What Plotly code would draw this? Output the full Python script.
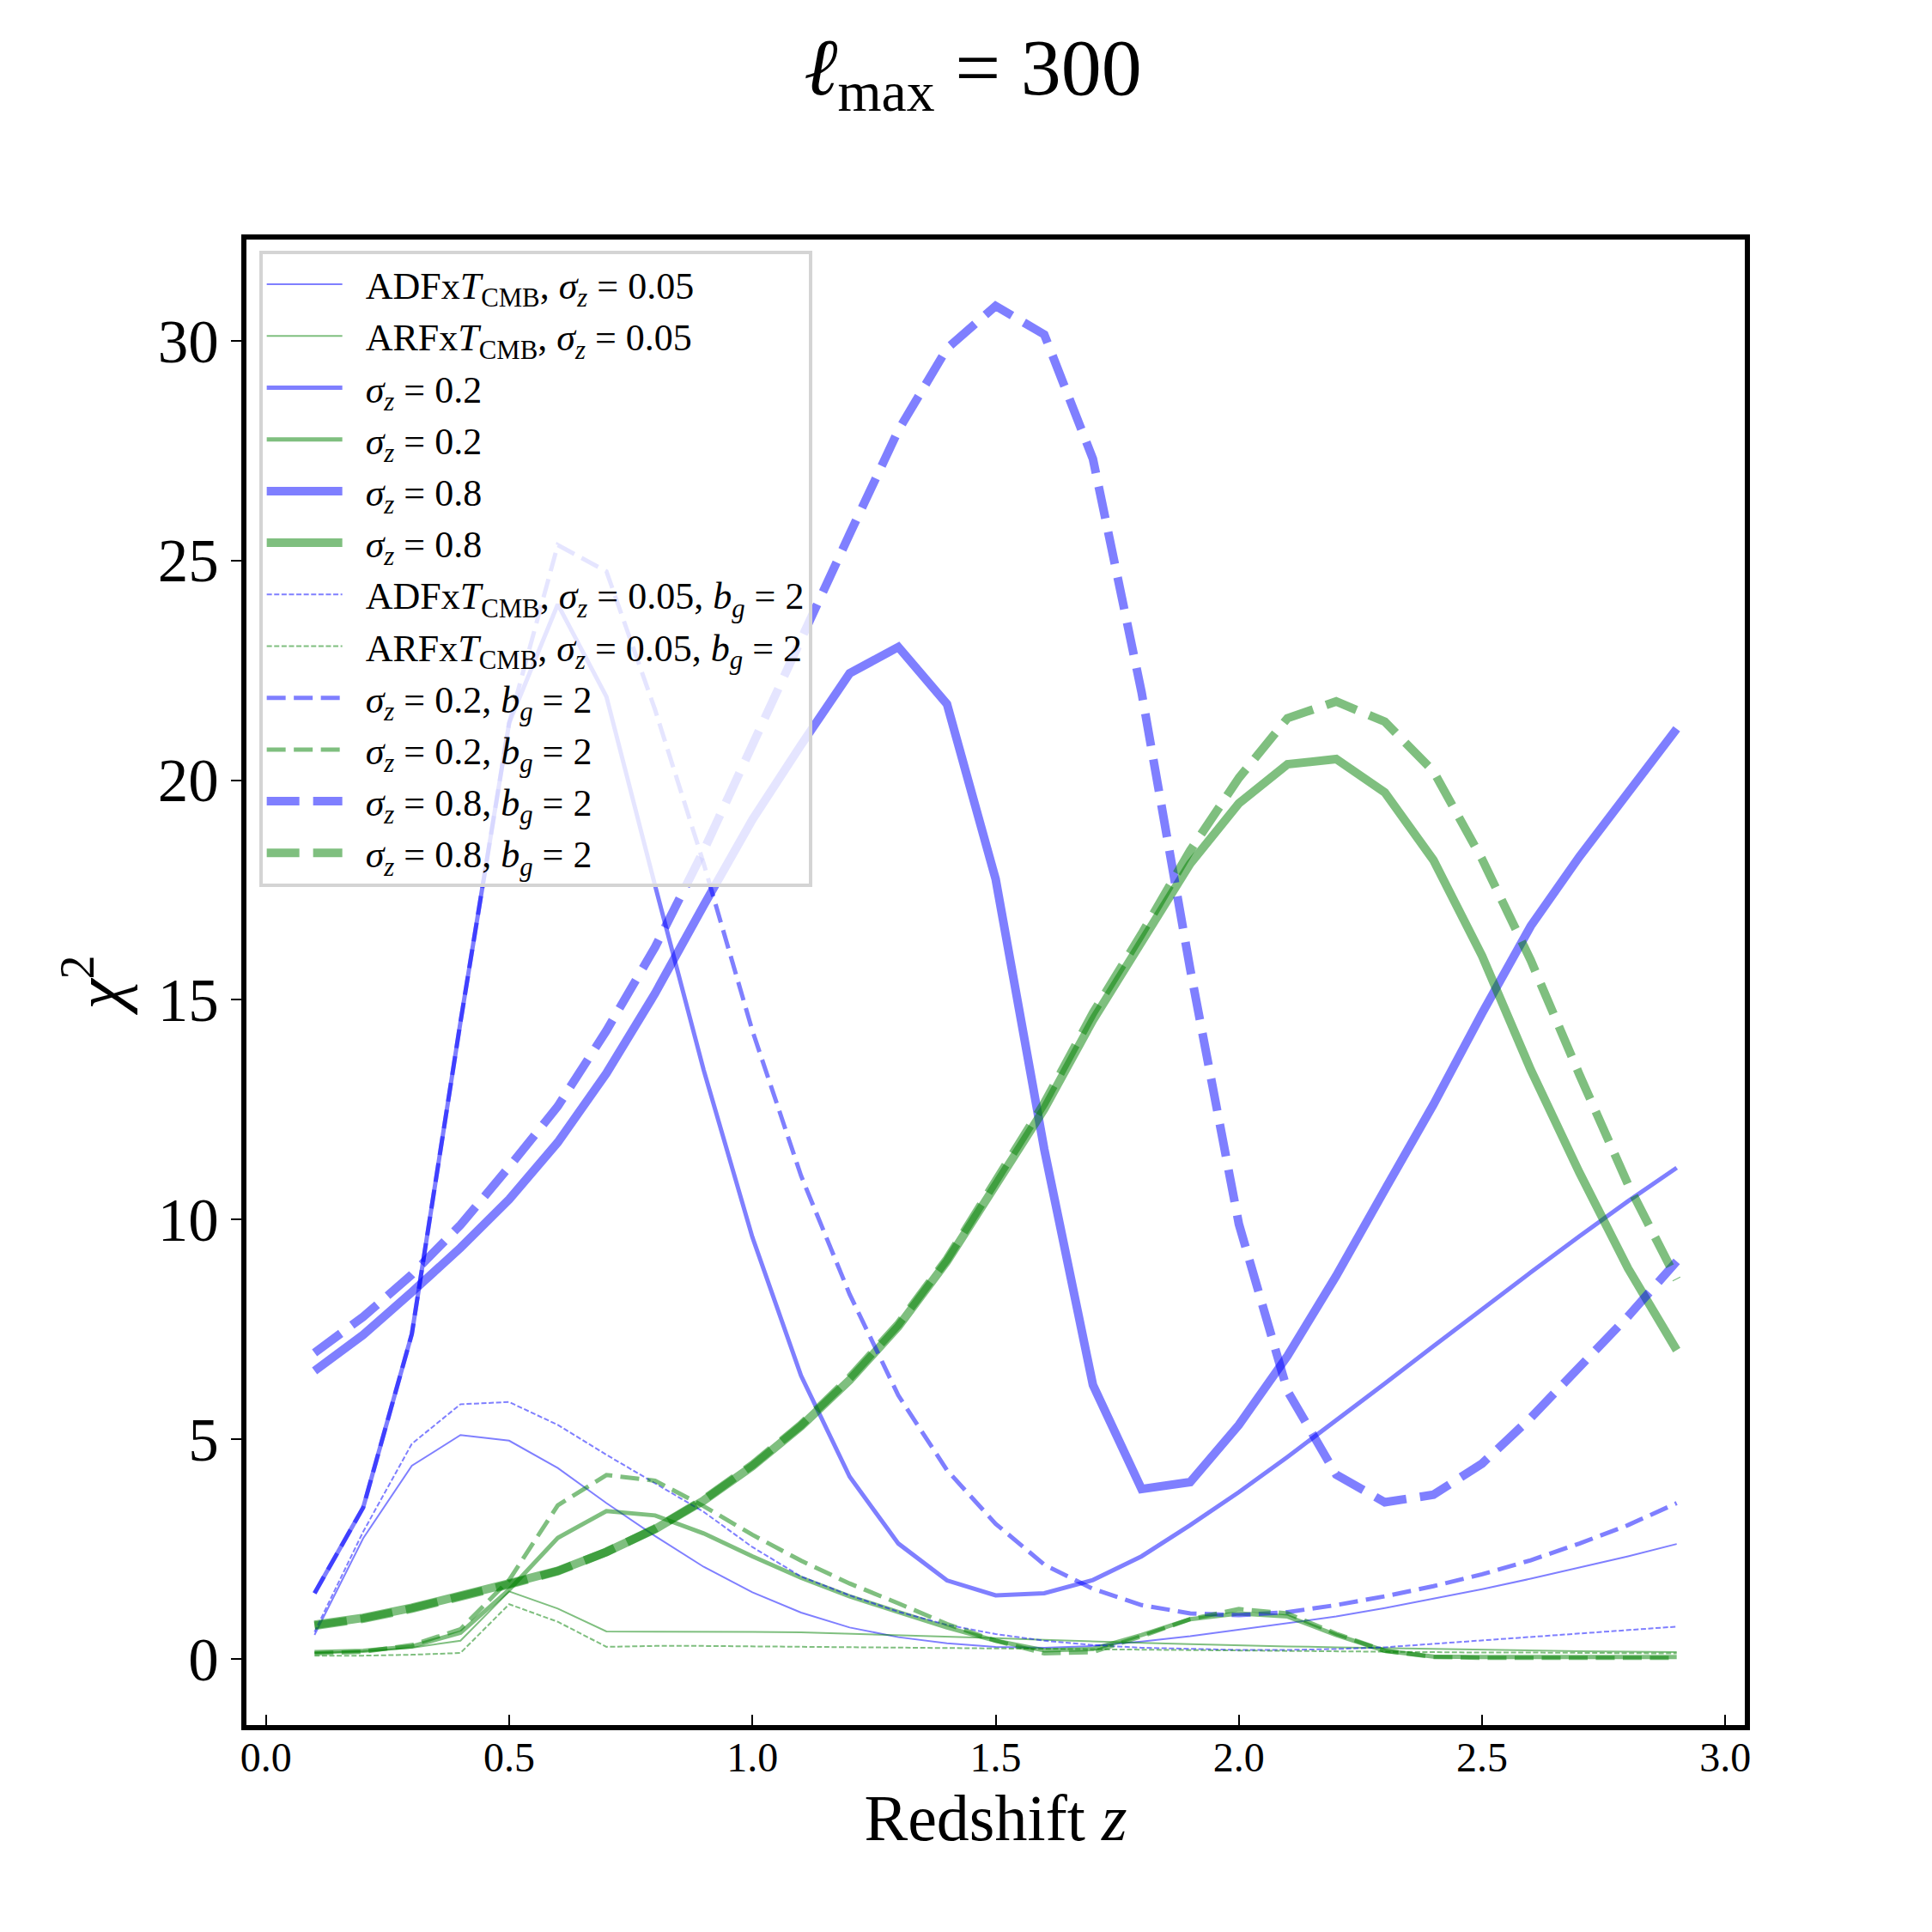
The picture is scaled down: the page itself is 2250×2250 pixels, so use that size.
import plotly.graph_objects as go

# Redshift bins
z = [0.1, 0.2, 0.3, 0.4, 0.5, 0.6, 0.7, 0.8, 0.9, 1.0,
     1.1, 1.2, 1.3, 1.4, 1.5, 1.6, 1.7, 1.8, 1.9, 2.0,
     2.1, 2.2, 2.3, 2.4, 2.5, 2.6, 2.7, 2.8, 2.9]

# chi^2 values
adf_005 = [0.55, 2.75, 4.4, 5.1, 4.97, 4.35, 3.55, 2.8, 2.1, 1.52,
           1.06, 0.72, 0.5, 0.36, 0.28, 0.26, 0.3, 0.4, 0.52, 0.67,
           0.81, 0.97, 1.16, 1.37, 1.59, 1.83, 2.08, 2.34, 2.62]
arf_005 = [0.14, 0.18, 0.26, 0.42, 1.54, 1.15, 0.63, 0.63, 0.63, 0.62,
           0.61, 0.58, 0.55, 0.52, 0.48, 0.44, 0.4, 0.37, 0.34, 0.31,
           0.29, 0.27, 0.25, 0.23, 0.21, 0.2, 0.18, 0.17, 0.16]
adf_02 = [1.5, 3.45, 7.4, 14.5, 21.3, 24.0, 21.9, 17.6, 13.4, 9.6,
          6.45, 4.15, 2.63, 1.79, 1.45, 1.5, 1.8, 2.34, 3.05, 3.8,
          4.6, 5.42, 6.27, 7.12, 7.97, 8.8, 9.62, 10.42, 11.18]
arf_02 = [0.16, 0.19, 0.29, 0.6, 1.58, 2.76, 3.37, 3.27, 2.86, 2.34,
          1.85, 1.43, 1.07, 0.72, 0.42, 0.2, 0.23, 0.55, 0.91, 1.04,
          0.97, 0.55, 0.19, 0.06, 0.05, 0.05, 0.05, 0.05, 0.05]
adf_08 = [6.56, 7.38, 8.35, 9.36, 10.46, 11.76, 13.33, 15.15, 17.15, 19.1,
          20.8, 22.43, 23.03, 21.73, 17.75, 11.6, 6.24, 3.87, 4.03, 5.33,
          6.9, 8.72, 10.68, 12.62, 14.7, 16.68, 18.26, 19.72, 21.17]
arf_08 = [0.78, 0.94, 1.17, 1.43, 1.72, 2.01, 2.44, 2.96, 3.61, 4.39,
          5.3, 6.35, 7.57, 9.05, 10.83, 12.52, 14.54, 16.32, 18.1, 19.47,
          20.36, 20.48, 19.72, 18.18, 16.0, 13.41, 11.07, 8.89, 7.03]
adf_005_bg2 = [0.62, 2.9, 4.9, 5.8, 5.85, 5.33, 4.65, 4.0, 3.35, 2.55,
               1.88, 1.45, 1.08, 0.78, 0.57, 0.42, 0.32, 0.26, 0.23, 0.21,
               0.21, 0.23, 0.27, 0.35, 0.43, 0.51, 0.58, 0.66, 0.74]
arf_005_bg2 = [0.08, 0.08, 0.1, 0.14, 1.25, 0.85, 0.28, 0.3, 0.3, 0.29,
               0.28, 0.27, 0.26, 0.25, 0.24, 0.23, 0.22, 0.21, 0.2, 0.19,
               0.18, 0.17, 0.16, 0.16, 0.15, 0.15, 0.14, 0.14, 0.13]
adf_02_bg2 = [1.5, 3.45, 7.4, 14.5, 21.3, 25.35, 24.75, 21.6, 18.1, 14.3,
              11.0, 8.3, 6.0, 4.3, 3.08, 2.15, 1.6, 1.23, 1.04, 1.0,
              1.07, 1.23, 1.43, 1.66, 1.93, 2.25, 2.63, 3.05, 3.55]
arf_02_bg2 = [0.13, 0.17, 0.32, 0.68, 1.8, 3.5, 4.19, 4.06, 3.48, 2.83,
              2.24, 1.72, 1.27, 0.8, 0.42, 0.13, 0.16, 0.52, 0.91, 1.14,
              1.04, 0.58, 0.19, 0.05, 0.03, 0.03, 0.03, 0.03, 0.03]
adf_08_bg2 = [6.97, 7.79, 8.75, 9.88, 11.2, 12.58, 14.3, 16.2, 18.4, 20.75,
              23.2, 25.6, 27.96, 29.82, 30.79, 30.14, 27.31, 22.0, 15.7, 9.9,
              6.1, 4.2, 3.57, 3.74, 4.45, 5.49, 6.66, 7.8, 9.05]
arf_08_bg2 = [0.76, 0.92, 1.15, 1.41, 1.7, 2.0, 2.44, 2.97, 3.63, 4.42,
              5.33, 6.4, 7.62, 9.1, 10.9, 12.65, 14.7, 16.5, 18.4, 20.05,
              21.41, 21.79, 21.33, 20.2, 18.2, 15.9, 13.3, 10.8, 8.64]

labels = [
    "ADFx<i>T</i><sub>CMB</sub>, <i>σ</i><sub><i>z</i></sub> = 0.05",
    "ARFx<i>T</i><sub>CMB</sub>, <i>σ</i><sub><i>z</i></sub> = 0.05",
    "<i>σ</i><sub><i>z</i></sub> = 0.2",
    "<i>σ</i><sub><i>z</i></sub> = 0.2",
    "<i>σ</i><sub><i>z</i></sub> = 0.8",
    "<i>σ</i><sub><i>z</i></sub> = 0.8",
    "ADFx<i>T</i><sub>CMB</sub>, <i>σ</i><sub><i>z</i></sub> = 0.05, <i>b</i><sub><i>g</i></sub> = 2",
    "ARFx<i>T</i><sub>CMB</sub>, <i>σ</i><sub><i>z</i></sub> = 0.05, <i>b</i><sub><i>g</i></sub> = 2",
    "<i>σ</i><sub><i>z</i></sub> = 0.2, <i>b</i><sub><i>g</i></sub> = 2",
    "<i>σ</i><sub><i>z</i></sub> = 0.2, <i>b</i><sub><i>g</i></sub> = 2",
    "<i>σ</i><sub><i>z</i></sub> = 0.8, <i>b</i><sub><i>g</i></sub> = 2",
    "<i>σ</i><sub><i>z</i></sub> = 0.8, <i>b</i><sub><i>g</i></sub> = 2",
]
GAP = "\u00a0\u00a0"  # small gap between legend line and text

BLUE = "rgba(0,0,255,0.5)"
GREEN = "rgba(0,128,0,0.5)"

W_THIN, W_MED, W_THICK = 2, 5, 10
D_THIN = "6px,2.6px"
D_MED = "22px,9.5px"
D_THICK = "38px,16px"

series = [
    (adf_005, BLUE, W_THIN, "solid"),
    (arf_005, GREEN, W_THIN, "solid"),
    (adf_02, BLUE, W_MED, "solid"),
    (arf_02, GREEN, W_MED, "solid"),
    (adf_08, BLUE, W_THICK, "solid"),
    (arf_08, GREEN, W_THICK, "solid"),
    (adf_005_bg2, BLUE, W_THIN, D_THIN),
    (arf_005_bg2, GREEN, W_THIN, D_THIN),
    (adf_02_bg2, BLUE, W_MED, D_MED),
    (arf_02_bg2, GREEN, W_MED, D_MED),
    (adf_08_bg2, BLUE, W_THICK, D_THICK),
    (arf_08_bg2, GREEN, W_THICK, D_THICK),
]

FONT = "Liberation Serif, DejaVu Serif, serif"

fig = go.Figure()
for (vals, col, w, dash), lab in zip(series, labels):
    fig.add_trace(go.Scatter(x=z, y=vals, mode="lines", name=GAP + lab,
                             line=dict(color=col, width=w, dash=dash)))

fig.update_layout(
    width=2250, height=2250,
    margin=dict(l=279, r=226, t=271, b=249),
    paper_bgcolor="white", plot_bgcolor="white",
    font=dict(family=FONT, color="black"),
    title=dict(text="<i>ℓ</i><sub>max</sub> = 300", x=0.5, xref="container",
               xanchor="center", y=0.9695, yanchor="middle",
               font=dict(size=94, family=FONT)),
    legend=dict(x=0.0084, y=0.9925, xanchor="left", yanchor="top",
                bgcolor="rgba(255,255,255,0.8)", bordercolor="#d4d4d4",
                borderwidth=4, font=dict(size=44, family=FONT),
                itemwidth=88, tracegroupgap=0),
    showlegend=True,
)
fig.update_xaxes(
    range=[-0.04, 3.04], tick0=0, dtick=0.5, tickformat=".1f",
    ticks="inside", ticklen=12, tickwidth=2, tickcolor="black",
    showline=True, linewidth=6, linecolor="black", mirror=True,
    showgrid=False, zeroline=False, ticklabelstandoff=-10,
    tickfont=dict(size=48, family=FONT),
    title=dict(text="Redshift <i>z</i>", font=dict(size=76, family=FONT), standoff=20),
)
fig.update_yaxes(
    range=[-1.5, 32.3], tick0=0, dtick=5,
    ticks="outside", ticklen=12, tickwidth=2, tickcolor="black",
    showline=True, linewidth=6, linecolor="black", mirror=True,
    showgrid=False, zeroline=False,
    tickfont=dict(size=71, family=FONT),
    title=dict(text="<i>χ</i><sup>2</sup>", font=dict(size=80, family=FONT), standoff=16),
)

fig.write_html("out.html")
